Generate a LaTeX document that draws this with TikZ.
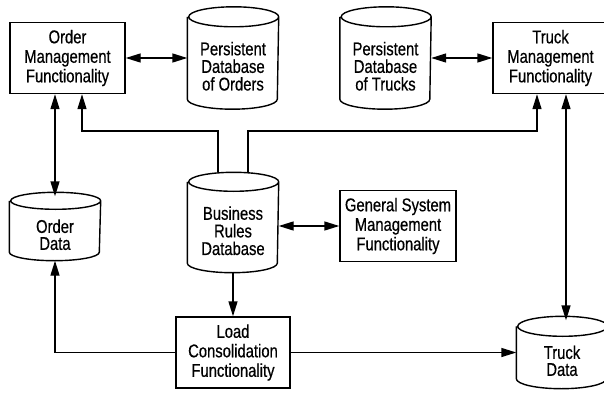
\documentclass[tikz,border=0pt]{standalone}
\usepackage{fontspec}
\setmainfont{Liberation Sans}[FakeStretch=0.8,FakeBold=0.5]
\usetikzlibrary{arrows.meta}

% text of a database drum sits lower, below the top ellipse
\newcommand{\dbtext}[1]{\raisebox{-14.6pt}[0pt][0pt]{\begin{tabular}{@{}c@{}}#1\end{tabular}}}

\tikzset{
  unit/.style={line width=1.4pt, align=center, inner sep=0pt,
    font=\fontsize{18.5}{19.5}\selectfont},
  funcbox/.style={unit, draw, rectangle, minimum width=#1, minimum height=71},
  dbase/.style={unit, rectangle, minimum width=90, minimum height=#1},
  drum/.style={line width=1.4pt},
  link/.style={line width=1.4pt, -{Triangle[length=15pt,width=9pt]}},
  dlink/.style={line width=1.4pt, {Triangle[length=15pt,width=9pt]}-{Triangle[length=15pt,width=9pt]}},
}

\begin{document}
\renewcommand{\arraystretch}{0.72}
\begin{tikzpicture}[x=1pt,y=-1pt]
  \useasboundingbox (0,0) rectangle (604,393);
  % top row
  \node[funcbox=115] (ordmgmt) at (67.5,58) {Order\\Management\\Functionality};
  \node[dbase=101] (ordpers) at (233,58) {\dbtext{Persistent\\Database\\of Orders}};
  \node[dbase=101] (trkpers) at (385.5,58) {\dbtext{Persistent\\Database\\of Trucks}};
  \node[funcbox=115] (trkmgmt) at (550.5,58) {Truck\\Management\\Functionality};
  % middle row
  \node[dbase=67] (orddata) at (55,226.5) {\dbtext{Order\\Data}};
  \node[dbase=99] (rules) at (233,222.5) {\dbtext{Business\\Rules\\Database}};
  \node[funcbox=116] (sysmgmt) at (398,226) {General System\\Management\\Functionality};
  % bottom row
  \node[funcbox=114] (loadcons) at (233,352.5) {Load\\Consolidation\\Functionality};
  \node[dbase=71] (trkdata) at (562,352.5) {\dbtext{Truck\\Data}};

  % drum outlines round the database nodes
  \foreach \db/\ry in {ordpers/10, trkpers/10, orddata/8.5, rules/9.5, trkdata/10}
    \draw[drum] ([yshift=-\ry pt]\db.north west) -- ([yshift=\ry pt]\db.south west)
      arc[start angle=180, end angle=360, x radius=45pt, y radius=\ry pt]
      -- ([yshift=-\ry pt]\db.north east)
      arc[start angle=0, end angle=360, x radius=45pt, y radius=\ry pt];

  \coordinate (busl) at (82,131);
  \coordinate (busr) at (537,131);

  \draw[dlink] (ordmgmt) -- (ordpers);
  \draw[dlink] (trkpers) -- (trkmgmt);
  \draw[dlink] (ordmgmt.south -| orddata.north) -- ([yshift=-4pt]orddata.north);
  \draw[dlink] ([xshift=15.5pt]trkmgmt.south) -- ([xshift=15.5pt,yshift=-4pt]trkmgmt.south |- trkdata.north);
  \draw[link] ([xshift=-15pt]rules.north) |- (busl) -- (busl |- ordmgmt.south);
  \draw[link] ([xshift=15pt]rules.north) |- (busr) -- (busr |- trkmgmt.south);
  \draw[dlink] (sysmgmt.west -| rules.east) -- (sysmgmt.west);
  \draw[link] (rules.south) -- (loadcons.north);
  \draw[link] (loadcons.west) -| (orddata.south);
  \draw[link] (loadcons.east) -- (loadcons.east -| trkdata.west);
\end{tikzpicture}
\end{document}
